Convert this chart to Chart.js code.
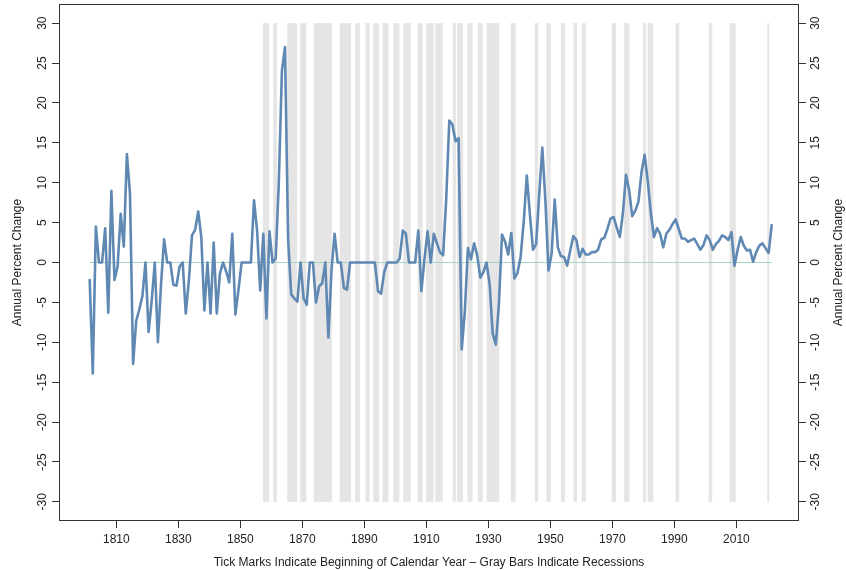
<!DOCTYPE html>
<html>
<head>
<meta charset="utf-8">
<script src="https://cdn.jsdelivr.net/npm/chart.js@4.4.1/dist/chart.umd.min.js"></script>
<style>
  body { margin: 0; background: #fff; }
  #wrap { width: 846px; height: 570px; }
</style>
</head>
<body>
<div id="wrap"><canvas id="chart"></canvas></div>
<script>
// Annual percent change, one value per year starting at firstYear
const firstYear = 1801;
const annualChange = [
  -2.2, -13.9, 4.5, 0, 0, 4.3, -6.3, 9.0, -2.2, -0.5,      // 1801-1810
  6.1, 2.0, 13.6, 8.6, -12.7, -7.3, -5.9, -4.2, 0, -8.7,   // 1811-1820
  -4.8, 0, -10.0, -2.8, 2.9, 0, 0, -2.8, -2.9, -0.5,       // 1821-1830
  0, -6.4, -2.2, 3.4, 4.1, 6.4, 3.2, -6.0, 0, -6.4,        // 1831-1840
  2.5, -6.4, -1.4, 0, -1.1, -2.5, 3.6, -6.5, -3.4, 0,      // 1841-1850
  0, 0, 0, 7.8, 4.0, -3.5, 3.6, -7.0, 3.9, 0,              // 1851-1860
  0.5, 10.0, 24.0, 27.0, 3.0, -4.0, -4.5, -4.9, 0, -4.5,   // 1861-1870
  -5.3, 0, 0, -5.0, -3.0, -2.6, 0, -9.4, -1.0, 3.6,        // 1871-1880
  0, 0, -3.2, -3.4, 0, 0, 0, 0, 0, 0,                      // 1881-1890
  0, 0, 0, -3.6, -3.9, -1.2, 0, 0, 0, 0,                   // 1891-1900
  0.5, 4.0, 3.6, 0, 0, 0, 4.0, -3.6, 0.5, 3.9,             // 1901-1910
  0, 3.6, 2.4, 1.3, 0.9, 7.9, 17.8, 17.3, 15.2, 15.6,      // 1911-1920
  -10.9, -6.2, 1.8, 0.4, 2.4, 0.9, -1.9, -1.2, 0.0, -2.7,  // 1921-1930
  -8.9, -10.3, -5.2, 3.5, 2.6, 1.0, 3.7, -2.0, -1.3, 0.7,  // 1931-1940
  5.1, 10.9, 6.0, 1.6, 2.3, 8.5, 14.4, 7.7, -1.0, 1.1,     // 1941-1950
  7.9, 1.9, 0.8, 0.7, -0.4, 1.5, 3.3, 2.8, 0.7, 1.7,       // 1951-1960
  1.0, 1.0, 1.3, 1.3, 1.6, 2.9, 3.1, 4.2, 5.5, 5.7,        // 1961-1970
  4.4, 3.2, 6.2, 11.0, 9.1, 5.8, 6.5, 7.6, 11.3, 13.5,     // 1971-1980
  10.3, 6.2, 3.2, 4.3, 3.6, 1.9, 3.6, 4.1, 4.8, 5.4,       // 1981-1990
  4.2, 3.0, 3.0, 2.6, 2.8, 3.0, 2.3, 1.6, 2.2, 3.4,        // 1991-2000
  2.8, 1.6, 2.3, 2.7, 3.4, 3.2, 2.8, 3.8, -0.4, 1.6,       // 2001-2010
  3.2, 2.1, 1.5, 1.6, 0.1, 1.3, 2.1, 2.4, 1.8, 1.2, 4.7    // 2011-2021
];

// Recessions (peak and trough as decimal years)
const recessionStart = [1857.42, 1860.79, 1865.29, 1869.46, 1873.79, 1882.21, 1887.21, 1890.54,
  1893.04, 1895.96, 1899.46, 1902.71, 1907.38, 1910.04, 1913.04, 1918.63, 1920.04, 1923.38,
  1926.79, 1929.63, 1937.38, 1945.13, 1948.88, 1953.54, 1957.63, 1960.29, 1969.96, 1973.88,
  1980.04, 1981.54, 1990.54, 2001.21, 2007.96, 2020.13];
const recessionEnd = [1858.96, 1861.46, 1867.96, 1870.96, 1879.21, 1885.38, 1888.29, 1891.38,
  1894.46, 1897.46, 1900.96, 1904.63, 1908.46, 1912.04, 1914.96, 1919.21, 1921.54, 1924.54,
  1927.88, 1933.21, 1938.46, 1945.79, 1949.79, 1954.38, 1958.29, 1961.13, 1970.88, 1975.21,
  1980.54, 1982.88, 1991.21, 2001.88, 2009.46, 2020.29];

const yearTicks = [1810, 1830, 1850, 1870, 1890, 1910, 1930, 1950, 1970, 1990, 2010];
const percentTicks = [-30, -25, -20, -15, -10, -5, 0, 5, 10, 15, 20, 25, 30];

const yLabel = 'Annual Percent Change';
const xLabel = 'Tick Marks Indicate Beginning of Calendar Year \u2013 Gray Bars Indicate Recessions';

const yearOffset = 0.4;   // annual values are drawn a little before mid-year
const FONT = '"Liberation Sans", Arial, sans-serif';
const TEXT = '#222';
const AXIS = '#333';

const linePoints = annualChange.map((v, i) => ({ x: firstYear + i + yearOffset, y: v }));
const zeroPoints = [
  { x: linePoints[0].x, y: 0 },
  { x: linePoints[linePoints.length - 1].x, y: 0 }
];

// gray recession bars, behind the line
const recessionBars = {
  id: 'recessionBars',
  beforeDatasetsDraw(chart) {
    const { ctx, scales: { x, y } } = chart;
    const top = y.getPixelForValue(30);
    const bottom = y.getPixelForValue(-30);
    ctx.save();
    ctx.fillStyle = '#e5e5e5';
    recessionStart.forEach((s, i) => {
      const x1 = x.getPixelForValue(s);
      const x2 = x.getPixelForValue(recessionEnd[i]);
      ctx.fillRect(x1 - 0.5, top, Math.max(x2 - x1 + 1.5, 2), bottom - top);
    });
    ctx.restore();
  }
};

// box around the plot, rotated y labels and the two side titles
const frameAndLabels = {
  id: 'frameAndLabels',
  afterDraw(chart) {
    const { ctx, chartArea: a, scales: { y } } = chart;
    ctx.save();
    ctx.strokeStyle = AXIS;
    ctx.lineWidth = 1;
    ctx.strokeRect(Math.round(a.left) + 0.5, Math.round(a.top) + 0.5,
      Math.round(a.right - a.left) - 1, Math.round(a.bottom - a.top) - 1);

    ctx.fillStyle = TEXT;
    ctx.textAlign = 'center';
    ctx.textBaseline = 'middle';
    const rotText = (txt, px, py) => {
      ctx.save();
      ctx.translate(px, py);
      ctx.rotate(-Math.PI / 2);
      ctx.fillText(txt, 0, 0);
      ctx.restore();
    };
    ctx.font = '12px ' + FONT;
    percentTicks.forEach(v => {
      const py = y.getPixelForValue(v);
      rotText(String(v), a.left - 16, py);
      rotText(String(v), a.right + 17, py);
    });
    const midY = (a.top + a.bottom) / 2;
    rotText(yLabel, 18, midY);
    rotText(yLabel, 839, midY);
    ctx.restore();
  }
};

const yAxis = (position, width) => ({
  type: 'linear',
  position: position,
  min: -32.4,
  max: 32.4,
  border: { display: false },
  grid: { drawOnChartArea: false, drawTicks: true, tickLength: 7, color: AXIS },
  ticks: { display: false },
  afterBuildTicks: scale => { scale.ticks = percentTicks.map(v => ({ value: v })); },
  afterFit: scale => { scale.width = width; }
});

new Chart(document.getElementById('chart'), {
  type: 'line',
  data: {
    datasets: [{
      label: 'Annual Percent Change',
      data: linePoints,
      borderColor: '#5f89b3',
      borderWidth: 2.6,
      pointRadius: 0,
      tension: 0,
      borderJoinStyle: 'round',
      borderCapStyle: 'round',
      yAxisID: 'y'
    }, {
      label: 'zero',
      data: zeroPoints,
      borderColor: '#a3d6c8',
      borderWidth: 1.2,
      pointRadius: 0,
      yAxisID: 'y'
    }]
  },
  options: {
    responsive: true,
    maintainAspectRatio: false,
    animation: false,
    events: [],
    layout: { padding: { top: 4, left: 0, right: 0, bottom: 0 } },
    plugins: { legend: { display: false }, tooltip: { enabled: false } },
    scales: {
      x: {
        type: 'linear',
        min: 1791.5,
        max: 2030.2,
        border: { display: false },
        grid: { drawOnChartArea: false, drawTicks: true, tickLength: 7, color: AXIS },
        ticks: {
          color: TEXT,
          font: { family: FONT, size: 12 },
          padding: 4,
          maxRotation: 0,
          autoSkip: false,
          callback: v => String(v)
        },
        afterBuildTicks: scale => { scale.ticks = yearTicks.map(v => ({ value: v })); },
        afterFit: scale => { scale.height = 49; },
        title: {
          display: true,
          text: xLabel,
          color: TEXT,
          font: { family: FONT, size: 12 },
          padding: { top: 0, bottom: 0 }
        }
      },
      y: yAxis('left', 59),
      y2: yAxis('right', 47)
    }
  },
  plugins: [recessionBars, frameAndLabels]
});
</script>
</body>
</html>
